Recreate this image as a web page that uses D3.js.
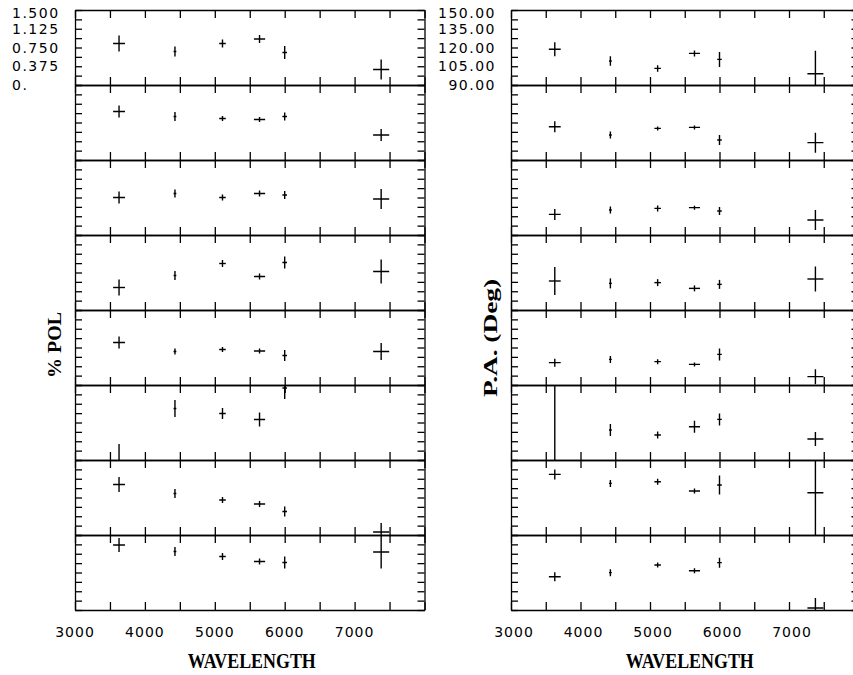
<!DOCTYPE html>
<html>
<head>
<meta charset="utf-8">
<script src="https://cdn.jsdelivr.net/npm/d3@7"></script>
<style>
  body { margin: 0; background: #fff; }
  svg { display: block; }
</style>
</head>
<body>
<script>
// effective wavelengths (A) and half bandwidths
const wavelengths = [3630, 4430, 5110, 5640, 6000, 7380];
const waveErr = [85, 20, 47, 80, 33, 115];

// % polarization, one row per object (top to bottom)
const polValues = [
  [0.83, 0.67, 0.83, 0.92, 0.65, 0.31],
  [0.97, 0.87, 0.83, 0.81, 0.87, 0.50],
  [0.75, 0.83, 0.75, 0.83, 0.80, 0.72],
  [0.45, 0.69, 0.93, 0.67, 0.95, 0.77],
  [0.85, 0.67, 0.71, 0.68, 0.59, 0.67],
  [-0.05, 1.03, 0.93, 0.81, 1.44, null],
  [1.01, 0.83, 0.70, 0.62, 0.47, 0.06],
  [1.30, 1.17, 1.07, 0.97, 0.95, 1.16]
];
const polErr = [
  [0.16, 0.10, 0.08, 0.08, 0.13, 0.20],
  [0.12, 0.09, 0.05, 0.05, 0.08, 0.12],
  [0.12, 0.08, 0.06, 0.06, 0.08, 0.20],
  [0.16, 0.09, 0.07, 0.06, 0.12, 0.24],
  [0.12, 0.06, 0.05, 0.05, 0.11, 0.17],
  [0.37, 0.17, 0.11, 0.14, 0.22, null],
  [0.15, 0.09, 0.06, 0.06, 0.10, 0.18],
  [0.14, 0.09, 0.07, 0.06, 0.12, 0.33]
];

// position angle (deg)
const paValues = [
  [118.6, 109.2, 103.3, 115.3, 110.5, 99.0],
  [116.6, 110.0, 115.3, 116.1, 106.0, 103.9],
  [106.5, 110.0, 111.3, 111.9, 109.2, 102.0],
  [113.2, 111.3, 111.9, 107.3, 110.5, 114.8],
  [107.9, 110.5, 108.7, 106.5, 114.5, 96.7],
  [86.0, 114.0, 110.0, 116.6, 122.5, 106.8],
  [138.5, 131.3, 132.6, 125.2, 130.0, 123.8],
  [116.6, 119.9, 126.0, 121.4, 127.9, 91.6]
];
const paErr = [
  [5.6, 3.8, 2.6, 2.4, 6.0, 18.4],
  [4.4, 2.8, 1.6, 1.6, 4.0, 8.0],
  [4.4, 2.8, 2.4, 1.6, 3.2, 8.0],
  [11.2, 4.0, 2.8, 2.4, 3.6, 10.0],
  [3.2, 2.8, 2.0, 1.6, 4.8, 6.0],
  [70.0, 4.8, 2.8, 4.8, 4.8, 5.6],
  [4.0, 2.8, 2.4, 2.0, 7.6, 60.0],
  [3.6, 2.8, 2.0, 2.0, 4.0, 8.0]
];

const xTickLabels = [3000, 4000, 5000, 6000, 7000];
const polTickValues = [1.5, 1.125, 0.75, 0.375, 0];
const polTickLabels = ["1.500", "1.125", "0.750", "0.375", "0."];
const paTickValues = [150, 135, 120, 105, 90];
const paTickLabels = ["150.00", "135.00", "120.00", "105.00", "90.00"];

const width = 853, height = 675;
const topY = 10, rowH = 75, nRows = 8;

const svg = d3.select("body").append("svg")
    .attr("width", width)
    .attr("height", height)
    .style("background", "#fff");

const numFont = "'DejaVu Sans', sans-serif";
const titleFont = "'Liberation Serif', 'Times New Roman', serif";

function panel(cfg) {
  const x = d3.scaleLinear().domain([3000, 8000]).range([cfg.x0, cfg.x1]);
  const g = svg.append("g");
  const yTicks = d3.range(9).map(i => cfg.domain[0] + i * (cfg.domain[1] - cfg.domain[0]) / 8);

  for (let r = 0; r < nRows; r++) {
    const y0 = topY + r * rowH;
    const y = d3.scaleLinear().domain(cfg.domain).range([y0 + rowH, y0]);
    const row = g.append("g").attr("color", "#000");

    const axes = [
      [d3.axisBottom(x).tickValues(d3.range(3000, 8001, 500)).tickSize(-8), `translate(0,${y0 + rowH})`],
      [d3.axisTop(x).tickValues(d3.range(3000, 8001, 500)).tickSize(-8), `translate(0,${y0})`],
      [d3.axisLeft(y).tickValues(yTicks).tickSize(-7), `translate(${cfg.x0},0)`],
      [d3.axisRight(y).tickValues(yTicks).tickSize(-7), `translate(${cfg.x1},0)`]
    ];
    axes.forEach(([ax, tr]) => {
      row.append("g")
          .attr("transform", tr)
          .call(ax.tickSizeOuter(0).tickFormat(""))
          .call(s => s.selectAll("path, line").attr("stroke-width", 1.3));
    });

    const clipId = `clip-${cfg.name}-${r}`;
    row.append("clipPath").attr("id", clipId)
      .append("rect")
        .attr("x", cfg.x0).attr("y", y0)
        .attr("width", cfg.x1 - cfg.x0).attr("height", rowH);

    const pts = wavelengths.map((w, i) => ({w, we: waveErr[i], v: cfg.values[r][i], e: cfg.errors[r][i]}))
        .filter(d => d.v != null);

    const marks = row.append("g")
        .attr("clip-path", `url(#${clipId})`)
        .attr("stroke", "#000")
        .attr("stroke-width", 1.4);

    marks.selectAll("line.h").data(pts).join("line")
        .attr("class", "h")
        .attr("x1", d => x(d.w - d.we)).attr("x2", d => x(d.w + d.we))
        .attr("y1", d => y(d.v)).attr("y2", d => y(d.v));
    marks.selectAll("line.v").data(pts).join("line")
        .attr("class", "v")
        .attr("x1", d => x(d.w)).attr("x2", d => x(d.w))
        .attr("y1", d => y(d.v - d.e)).attr("y2", d => y(d.v + d.e));

    if (r === 0) {
      g.append("g").selectAll("text").data(cfg.tickValues).join("text")
          .attr("x", cfg.labelX)
          .attr("y", d => Math.max(y(d), topY + 3))
          .attr("dy", "0.37em")
          .attr("text-anchor", cfg.labelAnchor)
          .attr("font-family", numFont)
          .attr("font-size", 14)
          .attr("letter-spacing", 1.5)
          .text((d, i) => cfg.tickLabels[i]);
    }
  }

  g.append("g").selectAll("text").data(xTickLabels).join("text")
      .attr("x", d => x(d) + cfg.shift)
      .attr("y", 637)
      .attr("text-anchor", "middle")
      .attr("font-family", numFont)
      .attr("font-size", 14)
      .attr("letter-spacing", 1)
      .text(d => d);

  g.append("text")
      .attr("x", (cfg.x0 + cfg.x1) / 2 + cfg.shift + 2)
      .attr("y", 668)
      .attr("text-anchor", "middle")
      .attr("font-family", titleFont)
      .attr("font-weight", "bold")
      .attr("font-size", 20)
      .attr("textLength", 128)
      .attr("lengthAdjust", "spacingAndGlyphs")
      .text("WAVELENGTH");

  g.append("text")
      .attr("transform", `translate(${cfg.titleX},${cfg.titleY}) rotate(-90)`)
      .attr("text-anchor", "middle")
      .attr("font-family", titleFont)
      .attr("font-weight", "bold")
      .attr("font-size", 19)
      .attr("textLength", cfg.titleLen)
      .attr("lengthAdjust", "spacingAndGlyphs")
      .text(cfg.title);
}

panel({
  name: "pol", x0: 75, x1: 424.5, domain: [0, 1.5],
  values: polValues, errors: polErr,
  tickValues: polTickValues, tickLabels: polTickLabels,
  labelX: 12, labelAnchor: "start", shift: 0,
  title: "% POL", titleX: 61, titleY: 345, titleLen: 66
});

panel({
  name: "pa", x0: 511, x1: 858.5, domain: [90, 150],
  values: paValues, errors: paErr,
  tickValues: paTickValues, tickLabels: paTickLabels,
  labelX: 496, labelAnchor: "end", shift: 3,
  title: "P.A. (Deg)", titleX: 497, titleY: 338, titleLen: 118
});
</script>
</body>
</html>
